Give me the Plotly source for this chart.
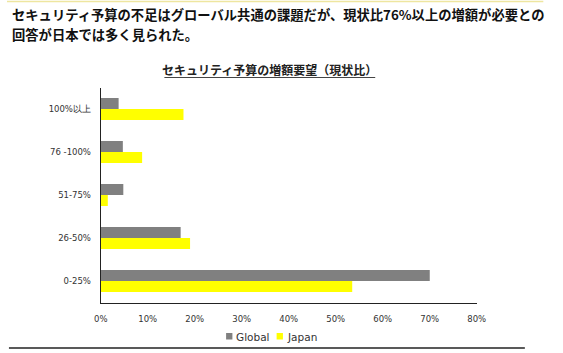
import plotly.graph_objects as go

categories = ["0-25%", "26-50%", "51-75%", "76 -100%", "100%以上"]
global_vals = [70.0, 17.0, 4.8, 4.7, 3.8]
japan_vals = [53.5, 19.0, 1.5, 8.8, 17.6]
x_ticks = [0, 10, 20, 30, 40, 50, 60, 70, 80]
x_tick_labels = [f"{v}%" for v in x_ticks]
series_names = ["Global", "Japan"]
series_colors = ["#808080", "#FFFF00"]

W, H = 563, 353

def px(x):
    return x / W

def py(y):
    return 1 - y / H

fig = go.Figure()
fig.add_trace(go.Bar(
    y=categories, x=japan_vals, orientation="h", name=series_names[1],
    marker=dict(color=series_colors[1], line=dict(width=0)),
))
fig.add_trace(go.Bar(
    y=categories, x=global_vals, orientation="h", name=series_names[0],
    marker=dict(color=series_colors[0], line=dict(width=0)),
))

tick_font = dict(family="DejaVu Sans, Verdana, sans-serif", size=8.5, color="#333333")

fig.update_layout(
    width=W, height=H,
    margin=dict(l=0, r=0, t=0, b=0),
    paper_bgcolor="white", plot_bgcolor="white",
    barmode="group", bargap=0.49, bargroupgap=0,
    showlegend=False,
    xaxis=dict(
        domain=[px(96.5), px(483.5)], range=[0, 80],
        tickvals=x_ticks, ticktext=x_tick_labels,
        showgrid=False, zeroline=False,
        showline=True, linecolor="#222222", linewidth=1.2,
        ticks="", ticklabelstandoff=8,
        tickfont=tick_font,
        fixedrange=True,
    ),
    yaxis=dict(
        domain=[py(302.5), py(87.5)],
        categoryorder="array", categoryarray=categories,
        showgrid=False, zeroline=False,
        showline=True, linecolor="#222222", linewidth=1.2,
        ticks="", ticklabelstandoff=7,
        tickfont=tick_font,
        fixedrange=True,
    ),
    font=dict(family="Noto Sans CJK JP, sans-serif"),
)

title_font = dict(family="Noto Sans CJK JP", size=13.3, color="#111111")
fig.add_annotation(
    text="<b>セキュリティ予算の不足はグローバル共通の課題だが、現状比76%以上の増額が必要との</b>",
    xref="paper", yref="paper", x=px(3), y=py(15), xanchor="left", yanchor="middle",
    showarrow=False, font=title_font,
)
fig.add_annotation(
    text="<b>回答が日本では多く見られた。</b>",
    xref="paper", yref="paper", x=px(3), y=py(34), xanchor="left", yanchor="middle",
    showarrow=False, font=title_font,
)
fig.add_annotation(
    text="<b>セキュリティ予算の増額要望（現状比）</b>",
    xref="paper", yref="paper", x=px(270), y=py(70), xanchor="center", yanchor="middle",
    showarrow=False, font=dict(family="Noto Sans CJK JP", size=12, color="#222222"),
)

shapes = [
    dict(type="line", xref="paper", yref="paper", x0=px(162), x1=px(379), y0=py(77.5), y1=py(77.5),
         line=dict(color="#444444", width=1)),
    dict(type="line", xref="paper", yref="paper", x0=0, x1=px(552), y0=py(1.5), y1=py(1.5),
         line=dict(color="#EEE6A0", width=1.5)),
    dict(type="line", xref="paper", yref="paper", x0=px(2), x1=px(533), y0=py(348), y1=py(348),
         line=dict(color="#222222", width=1.5)),
]

# legend drawn manually: small squares + labels
legend_square_left = [225.5, 277.5]
legend_text_left = [233.5, 286.5]
for name, color, sx, tx in zip(series_names, series_colors, legend_square_left, legend_text_left):
    shapes.append(dict(type="rect", xref="paper", yref="paper",
                       x0=px(sx), x1=px(sx + 6.5), y0=py(339.5), y1=py(333),
                       fillcolor=color, line=dict(width=0)))
    fig.add_annotation(
        text=name, xref="paper", yref="paper", x=px(tx), y=py(336.5),
        xanchor="left", yanchor="middle", showarrow=False,
        font=dict(family="DejaVu Sans, Verdana, sans-serif", size=10.5, color="#333333"),
    )

fig.update_layout(shapes=shapes)

fig.write_html("out.html")
